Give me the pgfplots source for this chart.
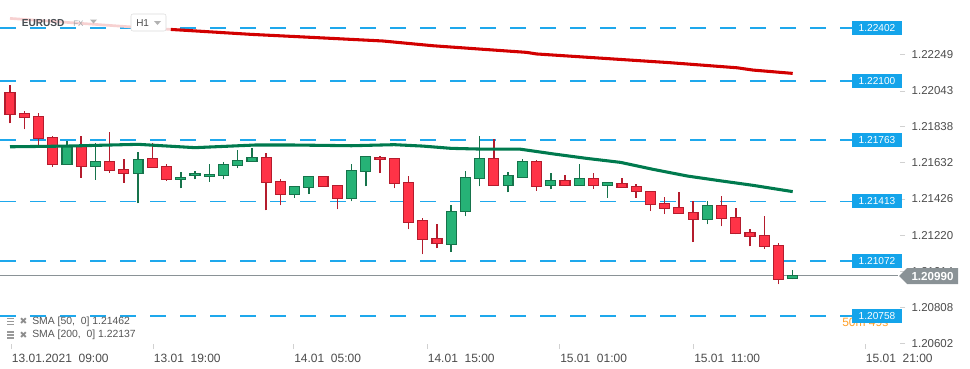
\documentclass[border=0pt]{standalone}
\usepackage{pgfplots}
\pgfplotsset{compat=1.18}
\usepackage{fontspec}
\setmainfont{Liberation Sans}
\newfontfamily\dejavu{DejaVu Sans}

\definecolor{upFill}{RGB}{38,178,118}
\definecolor{upDark}{RGB}{22,115,75}
\definecolor{dnFill}{RGB}{255,51,71}
\definecolor{dnDark}{RGB}{180,28,45}
\definecolor{smaG}{RGB}{0,122,78}
\definecolor{smaR}{RGB}{210,0,0}
\definecolor{lvl}{RGB}{30,168,236}
\definecolor{lvlBox}{RGB}{20,164,234}
\definecolor{pxGray}{RGB}{138,146,150}
\definecolor{txt}{RGB}{75,75,75}
\definecolor{orangeT}{RGB}{255,160,40}

\pgfplotsset{
  level/.style={lvl, line width=1pt, dash pattern=on 12pt off 10.5pt},
}

% \candle{index}{open}{high}{low}{close}
\newcommand\candle[5]{%
  \ifdim #5pt<#2pt \def\cst{dn}\else\def\cst{up}\fi
  \pgfmathsetmacro\xl{#1-0.35}\pgfmathsetmacro\xr{#1+0.35}%
  \edef\next{%
    \noexpand\addplot[\cst Dark, line width=1.1pt, forget plot] coordinates {(#1,#4) (#1,#3)};
    \noexpand\addplot[draw=\cst Dark, fill=\cst Fill, line width=0.9pt, forget plot]
       coordinates {(\xl,#2) (\xr,#2) (\xr,#5) (\xl,#5)} -- cycle;
  }\next
}

\begin{document}
\begin{tikzpicture}
\path[use as bounding box] (0,0) rectangle (727.5pt,-276pt);
\begin{axis}[
  at={(0,0)}, anchor=north west,
  width=675pt, height=258pt, scale only axis,
  xmin=-0.703, xmax=62.54, ymin=1.20598, ymax=1.22562,
  axis line style={draw=none},
  tick align=outside, major tick length=3.75pt,
  tick style={draw=black!18, line width=0.6pt},
  ytick={1.20602,1.20808,1.21014,1.21220,1.21426,1.21632,1.21838,1.22043,1.22249},
  ytick pos=right, yticklabel pos=right,
  scaled y ticks=false,
  y tick label style={/pgf/number format/fixed, /pgf/number format/fixed zerofill,
     /pgf/number format/precision=5, /pgf/number format/assume math mode=true,
     font=\fontsize{8.6}{10}\selectfont, text=txt, xshift=1.5pt},
  xtick={0.07,10.05,19.91,29.30,38.60,48.02,60.08},
  xticklabels={13.01.2021\hspace{5pt}09:00, 13.01\hspace{5pt}19:00, 14.01\hspace{5pt}05:00,
    14.01\hspace{5pt}15:00, 15.01\hspace{5pt}01:00, 15.01\hspace{5pt}11:00, 15.01\hspace{5pt}21:00},
  xtick pos=bottom,
  x tick label style={anchor=north west, font=\fontsize{9}{10}\selectfont, text=txt,
     inner xsep=0.5pt, yshift=-0.5pt},
]
% price level lines
\addplot[level] coordinates {(-0.703,1.22402) (59.17,1.22402)};
\addplot[level] coordinates {(-0.703,1.22100) (59.17,1.22100)};
\addplot[level] coordinates {(-0.703,1.21763) (59.17,1.21763)};
\addplot[level] coordinates {(-0.703,1.21413) (59.17,1.21413)};
\addplot[level] coordinates {(-0.703,1.21072) (59.17,1.21072)};
\addplot[level] coordinates {(-0.703,1.20758) (59.17,1.20758)};
% current price line
\addplot[pxGray, line width=0.9pt] coordinates {(-0.703,1.20990) (62.40,1.20990)};

% candles
\candle{0}{1.22035}{1.22077}{1.21858}{1.21909}
\candle{1}{1.21915}{1.21928}{1.21824}{1.21892}
\candle{2}{1.21898}{1.21915}{1.21734}{1.21772}
\candle{3}{1.21778}{1.21785}{1.21610}{1.21624}
\candle{4}{1.21624}{1.21757}{1.21624}{1.21732}
\candle{5}{1.21732}{1.21785}{1.21548}{1.21613}
\candle{6}{1.21613}{1.21746}{1.21536}{1.21641}
\candle{7}{1.21641}{1.21808}{1.21576}{1.21590}
\candle{8}{1.21595}{1.21654}{1.21519}{1.21573}
\candle{9}{1.21573}{1.21694}{1.21401}{1.21653}
\candle{10}{1.21658}{1.21746}{1.21607}{1.21607}
\candle{11}{1.21613}{1.21624}{1.21530}{1.21538}
\candle{12}{1.21538}{1.21578}{1.21487}{1.21550}
\candle{13}{1.21561}{1.21584}{1.21538}{1.21573}
\candle{14}{1.21555}{1.21624}{1.21525}{1.21567}
\candle{15}{1.21561}{1.21635}{1.21538}{1.21624}
\candle{16}{1.21618}{1.21706}{1.21601}{1.21647}
\candle{17}{1.21641}{1.21717}{1.21641}{1.21664}
\candle{18}{1.21664}{1.21687}{1.21361}{1.21521}
\candle{19}{1.21527}{1.21538}{1.21390}{1.21453}
\candle{20}{1.21453}{1.21498}{1.21433}{1.21498}
\candle{21}{1.21493}{1.21555}{1.21453}{1.21555}
\candle{22}{1.21555}{1.21555}{1.21498}{1.21498}
\candle{23}{1.21504}{1.21504}{1.21367}{1.21430}
\candle{24}{1.21430}{1.21626}{1.21413}{1.21590}
\candle{25}{1.21584}{1.21670}{1.21498}{1.21670}
\candle{26}{1.21664}{1.21670}{1.21573}{1.21653}
\candle{27}{1.21658}{1.21658}{1.21487}{1.21516}
\candle{28}{1.21521}{1.21555}{1.21253}{1.21293}
\candle{29}{1.21304}{1.21316}{1.21110}{1.21196}
\candle{30}{1.21202}{1.21281}{1.21144}{1.21173}
\candle{31}{1.21167}{1.21390}{1.21122}{1.21356}
\candle{32}{1.21356}{1.21584}{1.21327}{1.21550}
\candle{33}{1.21544}{1.21785}{1.21498}{1.21658}
\candle{34}{1.21658}{1.21767}{1.21504}{1.21504}
\candle{35}{1.21504}{1.21578}{1.21464}{1.21561}
\candle{36}{1.21550}{1.21653}{1.21550}{1.21641}
\candle{37}{1.21641}{1.21647}{1.21473}{1.21498}
\candle{38}{1.21504}{1.21574}{1.21481}{1.21533}
\candle{39}{1.21533}{1.21561}{1.21504}{1.21504}
\candle{40}{1.21504}{1.21626}{1.21504}{1.21544}
\candle{41}{1.21544}{1.21574}{1.21485}{1.21504}
\candle{42}{1.21504}{1.21521}{1.21433}{1.21521}
\candle{43}{1.21516}{1.21544}{1.21493}{1.21493}
\candle{44}{1.21498}{1.21510}{1.21433}{1.21470}
\candle{45}{1.21470}{1.21470}{1.21356}{1.21396}
\candle{46}{1.21401}{1.21436}{1.21339}{1.21373}
\candle{47}{1.21379}{1.21464}{1.21344}{1.21344}
\candle{48}{1.21350}{1.21414}{1.21179}{1.21310}
\candle{49}{1.21310}{1.21413}{1.21281}{1.21390}
\candle{50}{1.21390}{1.21441}{1.21270}{1.21316}
\candle{51}{1.21321}{1.21373}{1.21224}{1.21230}
\candle{52}{1.21236}{1.21253}{1.21156}{1.21213}
\candle{53}{1.21219}{1.21327}{1.21139}{1.21156}
\candle{54}{1.21162}{1.21173}{1.20939}{1.20967}
\candle{55}{1.20973}{1.21019}{1.20967}{1.20990}

% SMA 50
\addplot[smaG, line width=2.3pt, line join=round] coordinates {
(0,1.21724) (4,1.21728) (9,1.21738) (13,1.21719) (17.2,1.21734) (20,1.21734)
(24,1.21730) (27,1.21736) (29,1.21728) (31,1.21715) (33,1.21711) (35.8,1.21711)
(38.2,1.21683) (40.5,1.21658) (42.9,1.21635) (45.2,1.21595) (47.6,1.21557)
(49.9,1.21530) (52.2,1.21504) (55,1.21468)};
% SMA 200 (faded part behind the header)
\addplot[smaR!18, line width=2pt] coordinates {(0,1.22457) (8.4,1.22409) (11.3,1.22394)};
\addplot[smaR, line width=2.3pt, line join=round] coordinates {
(11.3,1.22394) (16.9,1.22366) (21.6,1.22347) (26.2,1.22328) (29.7,1.22301)
(32.3,1.22286) (36.3,1.22263) (37,1.22254) (41.7,1.22229) (46.4,1.22204)
(51.1,1.22175) (52.2,1.22162) (55,1.22143)};
\end{axis}

\begin{scope}[x=0.75pt,y=-0.75pt]
% countdown text (behind label)
\node[anchor=west, text=orangeT, font=\fontsize{9}{10}\selectfont, inner sep=0pt] at (842,322.5) {50m 49s};
% level labels
\foreach \yy/\tt in {28/1.22402, 80.9/1.22100, 139.9/1.21763, 201.3/1.21413, 261/1.21072, 316/1.20758}{
  \node[fill=lvlBox, text=white, minimum width=37.5pt, minimum height=10.3pt, inner sep=0pt,
        font=\fontsize{7.6}{8}\selectfont] at (877,\yy) {\tt};
}
% current price label
\fill[pxGray] (899,276) -- (907,268) -- (958,268) -- (958,284) -- (907,284) -- cycle;
\node[text=white, font=\bfseries\fontsize{8.7}{9}\selectfont, inner sep=0pt] at (932.5,276.3) {1.20990};
% header
\node[anchor=west, text={rgb,255:red,72;green,77;blue,82}, font=\bfseries\fontsize{7.6}{8}\selectfont, inner sep=0pt] at (21.5,22.8) {EURUSD};
\node[anchor=west, text={rgb,255:red,160;green,165;blue,170}, font=\fontsize{6}{7}\selectfont, inner sep=0pt] at (73,23.5) {FX};
\fill[black!30] (90,19.5) -- (97,19.5) -- (93.5,23.5) -- cycle;
\draw[draw=black!14, fill=white, rounded corners=1.5pt] (131,14) rectangle (166,31);
\node[anchor=west, text=txt, font=\fontsize{7.5}{8}\selectfont, inner sep=0pt] at (136,23) {H1};
\fill[black!30] (154,21) -- (161,21) -- (157.5,25) -- cycle;
% indicator legend
\foreach \yy/\tt in {321.7/{SMA [50,\ \ 0] 1.21462}, 335/{SMA [200,\ \ 0] 1.22137}}{
  \foreach \dy in {-3,0,3}{\draw[black!40, line width=1pt] (7,\yy+\dy) -- (14,\yy+\dy);}
  \node[text=black!45, font=\dejavu\fontsize{7}{8}\selectfont, inner sep=0pt] at (23.5,\yy) {✖};
  \node[anchor=west, text={rgb,255:red,85;green,85;blue,85}, font=\fontsize{7.8}{9}\selectfont, inner sep=0pt] at (32,\yy) {\tt};
}
\end{scope}
\end{tikzpicture}
\end{document}
